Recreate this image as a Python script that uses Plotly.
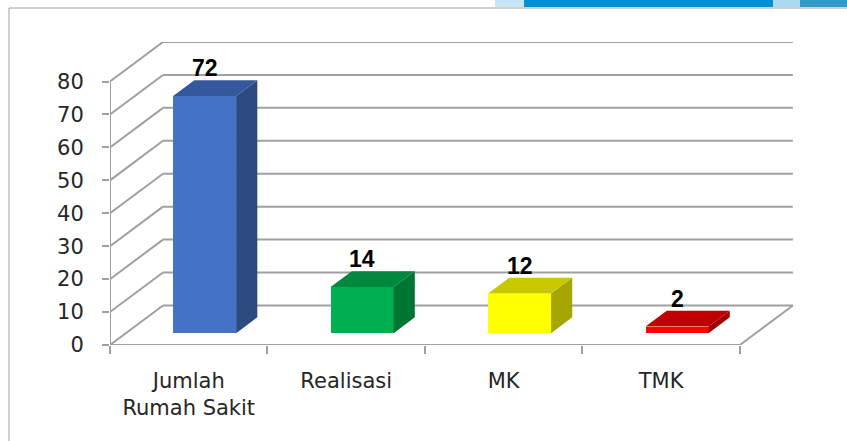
import plotly.graph_objects as go

# ---------------- data ----------------
categories = ["Jumlah<br>Rumah Sakit", "Realisasi", "MK", "TMK"]
values = [72, 14, 12, 2]
y_ticks = [0, 10, 20, 30, 40, 50, 60, 70, 80]
front_colors = ["#4472C4", "#00B050", "#FFFF00", "#FF0000"]
top_colors = ["#34589C", "#00883E", "#C8C800", "#C00000"]
side_colors = ["#2C4A80", "#007534", "#A6A600", "#A00000"]

# ---------------- geometry (3-D look) ----------------
W, H = 847, 441
ML, MR, MT, MB = 110, 52, 42, 96
DEPTH_X = 0.3365      # floor depth in category units
DEPTH_Y = 12.0        # floor depth in value units
BAR_W = 0.4
F0, F1 = 0.3, 0.7     # bar depth placement (fraction of floor depth)
n = len(categories)
X_RANGE = [0, 4.35]
Y_RANGE = [0, 92]
GRID = "#A0A0A0"

fig = go.Figure()

base = F0 * DEPTH_Y
off_x = F0 * DEPTH_X
ddx = (F1 - F0) * DEPTH_X
ddy = (F1 - F0) * DEPTH_Y
centers = [i + 0.5 + off_x for i in range(n)]

# front faces
fig.add_trace(go.Bar(x=centers, y=values, base=base, width=BAR_W,
                     marker=dict(color=front_colors, line=dict(width=0)),
                     hoverinfo="skip", showlegend=False))

# top and side faces
for c, v, tc, sc in zip(centers, values, top_colors, side_colors):
    xl, xr = c - BAR_W / 2, c + BAR_W / 2
    yb, yt = base, base + v
    fig.add_trace(go.Scatter(
        x=[xr, xr + ddx, xr + ddx, xr, xr],
        y=[yb, yb + ddy, yt + ddy, yt, yb],
        fill="toself", fillcolor=sc, mode="lines", line=dict(width=0, color=sc),
        hoverinfo="skip", showlegend=False))
    fig.add_trace(go.Scatter(
        x=[xl, xr, xr + ddx, xl + ddx, xl],
        y=[yt, yt, yt + ddy, yt + ddy, yt],
        fill="toself", fillcolor=tc, mode="lines", line=dict(width=0, color=tc),
        hoverinfo="skip", showlegend=False))

# grid (back wall + left wall) and floor
shapes = []
for v in y_ticks:
    shapes.append(dict(type="line", xref="x", yref="y", x0=0, y0=v,
                       x1=DEPTH_X, y1=v + DEPTH_Y, line=dict(color=GRID, width=2), layer="below"))
    shapes.append(dict(type="line", xref="x", yref="y", x0=DEPTH_X, y0=v + DEPTH_Y,
                       x1=n + DEPTH_X, y1=v + DEPTH_Y, line=dict(color=GRID, width=2), layer="below"))
shapes.append(dict(type="line", xref="x", yref="y", x0=0, y0=0, x1=n, y1=0,
                   line=dict(color=GRID, width=2), layer="below"))
shapes.append(dict(type="line", xref="x", yref="y", x0=n, y0=0, x1=n + DEPTH_X, y1=DEPTH_Y,
                   line=dict(color=GRID, width=2), layer="below"))
shapes.append(dict(type="line", xref="x", yref="y", x0=0, y0=0, x1=0, y1=y_ticks[-1],
                   line=dict(color=GRID, width=2), layer="below"))


def px(xp):
    return (xp - ML) / (W - ML - MR)


def py(yp):
    return 1 - (yp - MT) / (H - MT - MB)


# slide decorations: top strip and frame
for (x0, x1, col) in [(495, 524, "#C6E5F5"), (524, 773, "#0291D5"),
                      (773, 800, "#A9DAF0"), (800, 847, "#3399C8")]:
    shapes.append(dict(type="rect", xref="paper", yref="paper", x0=px(x0), x1=px(x1),
                       y0=py(7), y1=py(0), fillcolor=col, line=dict(width=0)))
shapes.append(dict(type="line", xref="paper", yref="paper", x0=px(9), x1=px(847),
                   y0=py(8), y1=py(8), line=dict(color="#A0A0A0", width=1)))
shapes.append(dict(type="line", xref="paper", yref="paper", x0=px(9), x1=px(9),
                   y0=py(8), y1=py(441), line=dict(color="#A0A0A0", width=1)))

# data labels
annotations = []
for c, v in zip(centers, values):
    annotations.append(dict(x=c, y=base + v + ddy, xref="x", yref="y", text=f"<b>{v}</b>",
                            showarrow=False, yanchor="bottom", yshift=-3,
                            font=dict(family="Liberation Sans", size=23, color="#000000")))

fig.update_layout(
    width=W, height=H,
    margin=dict(l=ML, r=MR, t=MT, b=MB, pad=0),
    paper_bgcolor="white", plot_bgcolor="white",
    shapes=shapes, annotations=annotations,
    bargap=0,
    xaxis=dict(range=X_RANGE, showgrid=False, zeroline=False, showline=False,
               tickmode="array", tickvals=[i + 0.5 for i in range(n)], ticktext=categories,
               ticks="", ticklabelstandoff=21,
               tickfont=dict(family="DejaVu Sans", size=21, color="#262626"),
               minor=dict(tickmode="array", tickvals=list(range(n + 1)), ticks="outside",
                          ticklen=8, tickwidth=2, tickcolor=GRID, showgrid=False),
               fixedrange=True),
    yaxis=dict(range=Y_RANGE, showgrid=False, zeroline=False, showline=False,
               tickmode="array", tickvals=y_ticks, ticks="outside", ticklen=7,
               tickwidth=2, tickcolor=GRID, ticklabelstandoff=14,
               tickfont=dict(family="DejaVu Sans", size=21, color="#262626"),
               fixedrange=True),
)

fig.write_html("out.html", config={"displayModeBar": False},
               post_script="document.body.style.margin='0';")
